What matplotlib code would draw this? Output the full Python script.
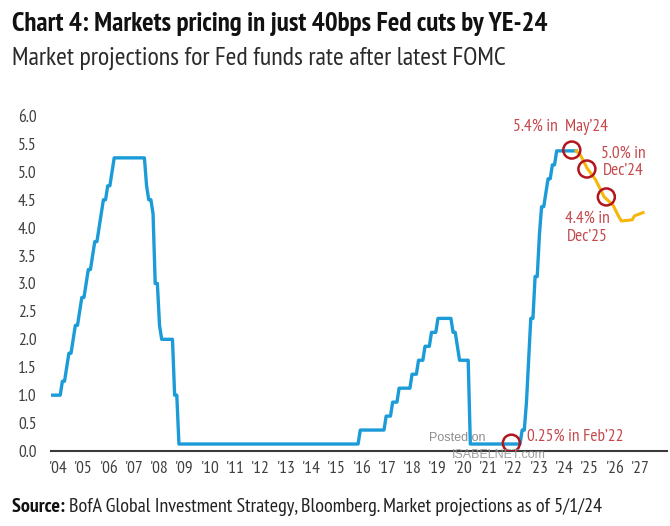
import matplotlib
matplotlib.use('Agg')
import matplotlib.pyplot as plt
from matplotlib import font_manager
import pandas as pd
import numpy as np

# Fed funds target (midpoint of range), month-end values at the kinks of the line
hist_months = [
    "2004-01", "2004-05", "2004-06", "2004-07", "2004-08", "2004-09", "2004-10", "2004-11",
    "2004-12", "2005-01", "2005-02", "2005-03", "2005-04", "2005-05", "2005-06", "2005-07",
    "2005-08", "2005-09", "2005-10", "2005-11", "2005-12", "2006-01", "2006-02", "2006-03",
    "2006-04", "2006-05", "2006-06", "2007-08", "2007-09", "2007-10", "2007-11", "2007-12",
    "2008-01", "2008-02", "2008-03", "2008-04", "2008-09", "2008-10", "2008-11", "2008-12",
    "2015-11", "2015-12", "2016-11", "2016-12", "2017-02", "2017-03", "2017-05", "2017-06",
    "2017-11", "2017-12", "2018-02", "2018-03", "2018-05", "2018-06", "2018-08", "2018-09",
    "2018-11", "2018-12", "2019-06", "2019-07", "2019-08", "2019-09", "2019-10", "2020-02",
    "2020-03", "2022-02", "2022-03", "2022-04", "2022-05", "2022-06", "2022-07", "2022-08",
    "2022-09", "2022-10", "2022-11", "2022-12", "2023-01", "2023-02", "2023-03", "2023-04",
    "2023-05", "2023-06", "2023-07", "2024-04",
]
hist_rates = [
    1.00, 1.00, 1.25, 1.25, 1.50, 1.75, 1.75, 2.00,
    2.25, 2.25, 2.50, 2.75, 2.75, 3.00, 3.25, 3.25,
    3.50, 3.75, 3.75, 4.00, 4.25, 4.50, 4.50, 4.75,
    4.75, 5.00, 5.25, 5.25, 4.75, 4.50, 4.50, 4.25,
    3.00, 3.00, 2.25, 2.00, 2.00, 1.00, 1.00, 0.125,
    0.125, 0.375, 0.375, 0.625, 0.625, 0.875, 0.875, 1.125,
    1.125, 1.375, 1.375, 1.625, 1.625, 1.875, 1.875, 2.125,
    2.125, 2.375, 2.375, 2.125, 2.125, 1.875, 1.625, 1.625,
    0.125, 0.125, 0.375, 0.375, 0.875, 1.625, 2.375, 2.375,
    3.125, 3.125, 3.875, 4.375, 4.375, 4.625, 4.875, 4.875,
    5.125, 5.125, 5.375, 5.375,
]

# market-implied path
proj_months = ["2024-04", "2024-06", "2024-09", "2025-01", "2025-05", "2025-09",
               "2025-12", "2026-01", "2026-06", "2026-07", "2026-11"]
proj_rates = [5.375, 5.30, 5.07, 4.86, 4.55, 4.41, 4.18, 4.12, 4.14, 4.21, 4.27]

# highlighted points
circle_months = ["2021-10", "2024-02", "2024-09", "2025-06"]
circle_rates = [0.14, 5.39, 5.05, 4.55]

years = list(range(2004, 2028))
year_labels = ["'" + str(y)[2:] for y in years]
y_ticks = [0.0, 0.5, 1.0, 1.5, 2.0, 2.5, 3.0, 3.5, 4.0, 4.5, 5.0, 5.5, 6.0]


def to_year(months):
    d = pd.to_datetime(months, format="%Y-%m")
    return d.year + (d.month - 0.5) / 12.0


names = {f.name for f in font_manager.fontManager.ttflist}
narrow = "Liberation Sans"
for cand in ["PT Sans Narrow", "Archivo Narrow", "Roboto Condensed", "Open Sans Condensed"]:
    if cand in names:
        narrow = cand
        break
plt.rcParams["font.family"] = [narrow, "DejaVu Sans"]

BLUE = "#1B9BD7"
GOLD = "#F6B60A"
RED_RING = "#B2161C"
RED_TEXT = "#C4484B"
GREY = "#3F3F3F"

fig = plt.figure(figsize=(6.7, 5.26), dpi=100)
ax = fig.add_axes([0.0754, 0.1426, 0.9201, 0.6369])

ax.plot(to_year(hist_months), hist_rates, color=BLUE, lw=2.4, solid_joinstyle="round", zorder=3)
ax.plot(to_year(proj_months), proj_rates, color=GOLD, lw=2.2, solid_joinstyle="round", zorder=3)
ax.scatter(to_year(circle_months), circle_rates, s=150, facecolors="none",
           edgecolors=RED_RING, linewidths=1.8, zorder=5)

ax.text(2023.67, 5.81, "5.4% in  May\u201924", color=RED_TEXT, fontsize=12.5, ha="center", va="center")
ax.text(2026.1, 5.17, "5.0% in\nDec\u201924", color=RED_TEXT, fontsize=12.5, ha="center", va="center",
        linespacing=1.15)
ax.text(2024.71, 4.0, "4.4% in\nDec\u201925", color=RED_TEXT, fontsize=12.5, ha="center", va="center",
        linespacing=1.15)
ax.text(2022.4, 0.25, "0.25% in Feb\u201922", color=RED_TEXT, fontsize=12.5, ha="left", va="center")

# watermark
ax.text(2018.6, 0.23, "Posted on", color="#7A7A7A", fontsize=9, ha="left", va="center",
        family="Liberation Sans", alpha=0.85, zorder=6)
ax.text(2019.5, -0.08, "ISABELNET.com", color="#8E8E8E", fontsize=9, ha="left", va="center",
        family="Liberation Sans", alpha=0.85, zorder=6)

ax.set_xlim(2004.0, 2027.8)
ax.set_ylim(0, 6.0)
ax.set_yticks(y_ticks)
ax.set_yticklabels([f"{v:.1f}" for v in y_ticks])
ax.set_xticks(np.linspace(2004.29, 2026.76, len(years)))
ax.set_xticklabels(year_labels)
ax.tick_params(axis="both", length=0, labelsize=12.5, colors=GREY)
ax.tick_params(axis="y", pad=10)
ax.tick_params(axis="x", pad=7)
for s in ["top", "right", "left"]:
    ax.spines[s].set_visible(False)
ax.spines["bottom"].set_color("#3A3A3A")
ax.spines["bottom"].set_linewidth(1.5)
ax.spines["bottom"].set_zorder(2)

title = fig.text(0.018, 0.941, "Chart 4: Markets pricing in just 40bps Fed cuts by YE-24",
                 fontsize=16, fontweight="bold", color="#111111", va="baseline")
sub = fig.text(0.018, 0.878, "Market projections for Fed funds rate after latest FOMC",
               fontsize=15.5, color="#2A2A2A", va="baseline")
src_b = fig.text(0.018, 0.027, "Source: ", fontsize=12, fontweight="bold", color="#111111",
                 va="baseline")
src = fig.text(0.1, 0.027, "BofA Global Investment Strategy, Bloomberg. Market projections as of 5/1/24",
               fontsize=12, color="#222222", va="baseline")

# size the header/footer texts to the widths they take in the reference
renderer = fig.canvas.get_renderer()


def width(t):
    return t.get_window_extent(renderer).width


title.set_fontsize(title.get_fontsize() * 536 / width(title))
sub.set_fontsize(sub.get_fontsize() * 495 / width(sub))
k = 589 / (width(src_b) + width(src))
src_b.set_fontsize(src_b.get_fontsize() * k)
src.set_fontsize(src.get_fontsize() * k)
src.set_x(0.018 + width(src_b) / fig.bbox.width)

fig.savefig("out.png", dpi=100)
